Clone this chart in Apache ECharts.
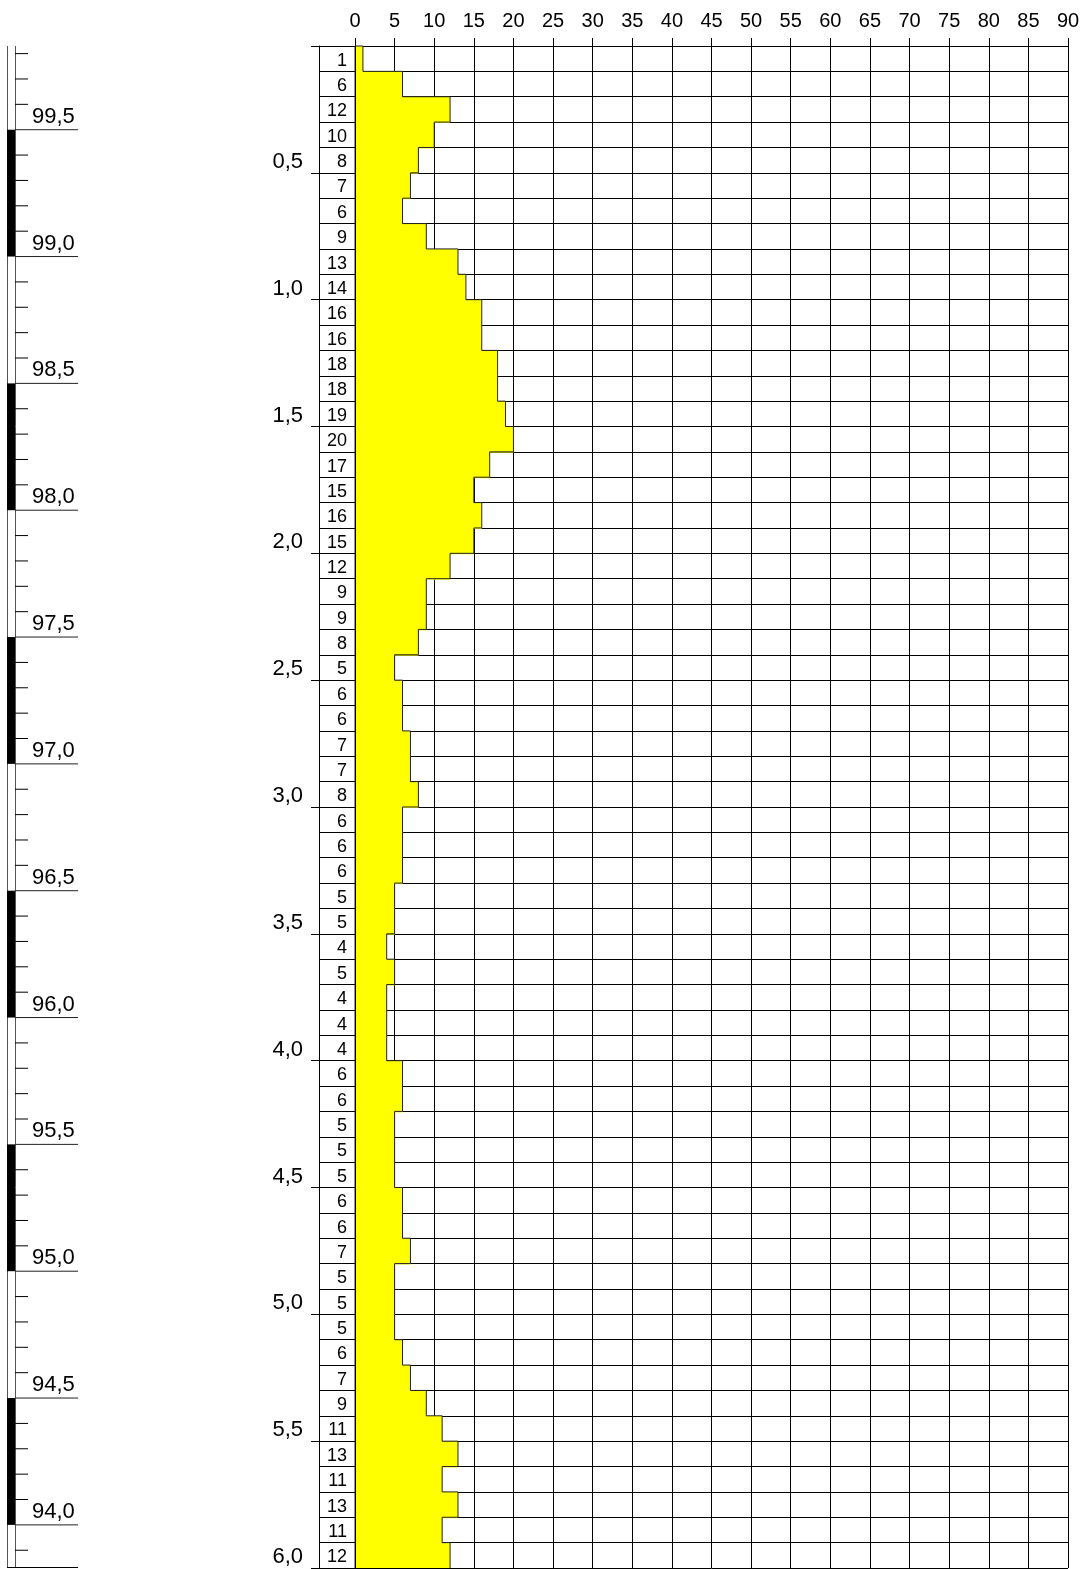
<!DOCTYPE html>
<html><head><meta charset="utf-8">
<script src="https://cdn.jsdelivr.net/npm/echarts@6/dist/echarts.min.js"></script>
<style>html,body{margin:0;padding:0;background:#fff}#c{width:1089px;height:1569px}</style>
</head><body><div id="c"></div>
<script>
// ---- data ----
const rowDepth = 0.1;      // m per row
const maxDepth = 6.0;      // m
const blows = [1,6,12,10,8,7,6,9,13,14,16,16,18,18,19,20,17,15,16,15,
               12,9,9,8,5,6,6,7,7,8,6,6,6,5,5,4,5,4,4,4,
               6,6,5,5,5,6,6,7,5,5,5,6,7,9,11,13,11,13,11,12];
const blowTicks = [0,5,10,15,20,25,30,35,40,45,50,55,60,65,70,75,80,85,90];
const depthLabels = [0.5,1.0,1.5,2.0,2.5,3.0,3.5,4.0,4.5,5.0,5.5,6.0];
const topElevation = 99.83;
const elevLabels = [99.5,99.0,98.5,98.0,97.5,97.0,96.5,96.0,95.5,95.0,94.5,94.0];

// ---- derived ----
const FONT = 'Liberation Sans, Arial, sans-serif';
const LINE = '#000';
const bottomElevation = +(topElevation - maxDepth).toFixed(2);
const fillData = blows.map((v, i) => [v, +(i * rowDepth).toFixed(3), +((i + 1) * rowDepth).toFixed(3)]);
const outline = [[0, maxDepth], [0, 0]];
blows.forEach((v, i) => { outline.push([v, +(i * rowDepth).toFixed(3)]); outline.push([v, +((i + 1) * rowDepth).toFixed(3)]); });
const countData = blows.map((v, i) => [1, +((i + 0.5) * rowDepth).toFixed(3), v]);
const blackSegs = [];
for (let k = 0; k + 1 < elevLabels.length; k += 2) blackSegs.push([elevLabels[k], elevLabels[k + 1]]);
const minorElev = [];
for (let k = Math.ceil(bottomElevation * 10 + 1e-6); k <= Math.floor(topElevation * 10); k++) {
  if (k % 5 !== 0) minorElev.push(k / 10);
}

const chart = echarts.init(document.getElementById('c'), null, {renderer: 'canvas'});
const lineStyle = {color: LINE, width: 1};

chart.setOption({
  animation: false,
  backgroundColor: '#fff',
  grid: [
    {left: 355, top: 46, width: 713, height: 1522},   // main
    {left: 319, top: 46, width: 36, height: 1522},    // counts
    {left: 7, top: 46, width: 8, height: 1522}        // elevation
  ],
  xAxis: [
    {gridIndex: 0, type: 'value', position: 'top', min: 0, max: 90, interval: 5,
     axisLine: {show: false},
     axisTick: {show: true, length: 8, lineStyle: lineStyle},
     axisLabel: {show: true, fontSize: 20, color: '#000', fontFamily: FONT, margin: 15,
                 customValues: blowTicks},
     splitLine: {show: true, lineStyle: lineStyle}},
    {gridIndex: 1, type: 'value', min: 0, max: 1, interval: 1, z: 10,
     axisLine: {show: false}, axisTick: {show: false}, axisLabel: {show: false},
     splitLine: {show: true, lineStyle: lineStyle}},
    {gridIndex: 2, type: 'value', min: 0, max: 1, interval: 1,
     axisLine: {show: false}, axisTick: {show: false}, axisLabel: {show: false},
     splitLine: {show: true, lineStyle: {color: '#555', width: 1}}}
  ],
  yAxis: [
    {gridIndex: 0, type: 'value', inverse: true, min: 0, max: maxDepth, interval: rowDepth,
     axisLine: {show: false}, axisTick: {show: false}, axisLabel: {show: false},
     splitLine: {show: true, lineStyle: lineStyle}},
    {gridIndex: 1, type: 'value', inverse: true, min: 0, max: maxDepth, interval: 0.5,
     axisLine: {show: true, lineStyle: lineStyle},
     axisTick: {show: true, length: 8, lineStyle: lineStyle},
     axisLabel: {show: true, fontSize: 22, color: '#000', fontFamily: FONT, margin: 16,
                 verticalAlign: 'bottom',
                 formatter: v => depthLabels.some(d => Math.abs(d - v) < 1e-6) ? v.toFixed(1).replace('.', ',') : ''},
     splitLine: {show: true, lineStyle: lineStyle},
     minorTick: {show: false, splitNumber: 5},
     minorSplitLine: {show: true, lineStyle: lineStyle}},
    {gridIndex: 2, type: 'value', min: bottomElevation, max: topElevation,
     axisLine: {show: false}, axisTick: {show: false}, axisLabel: {show: false},
     splitLine: {show: false}}
  ],
  series: [
    { // yellow fill
      type: 'custom', xAxisIndex: 0, yAxisIndex: 0, z: 2,
      data: fillData, encode: {x: 0, y: [1, 2]},
      renderItem: (params, api) => {
        const p0 = api.coord([0, api.value(1)]);
        const p1 = api.coord([api.value(0), api.value(2)]);
        const extra = params.dataIndex < blows.length - 1 ? 1 : 0;
        return {type: 'rect', shape: {x: p0[0], y: p0[1], width: p1[0] - p0[0], height: p1[1] - p0[1] + extra},
                style: {fill: '#ffff00'}};
      }
    },
    { // step outline
      type: 'line', xAxisIndex: 0, yAxisIndex: 0, z: 3, data: outline,
      symbol: 'none', clip: false, lineStyle: {color: '#222', width: 1}
    },
    { // blow counts text
      type: 'custom', xAxisIndex: 1, yAxisIndex: 1, z: 4,
      data: countData, encode: {x: 0, y: 1},
      renderItem: (params, api) => {
        const p = api.coord([api.value(0), api.value(1)]);
        return {type: 'text', x: p[0] - 8, y: p[1] + 2,
                style: {text: String(api.value(2)), fill: '#000', fontSize: 18, fontFamily: FONT,
                        align: 'right', verticalAlign: 'middle'}};
      }
    },
    { // elevation black segments
      type: 'custom', xAxisIndex: 2, yAxisIndex: 2, z: 2,
      data: blackSegs, encode: {y: [0, 1]},
      renderItem: (params, api) => {
        const a = api.coord([0, api.value(0)]);
        const b = api.coord([1, api.value(1)]);
        return {type: 'rect', shape: {x: a[0], y: a[1], width: b[0] - a[0], height: b[1] - a[1]},
                style: {fill: '#000'}};
      }
    },
    { // elevation minor ticks
      type: 'custom', xAxisIndex: 2, yAxisIndex: 2, z: 3,
      data: minorElev.map(e => [e]), encode: {y: 0},
      renderItem: (params, api) => {
        const p = api.coord([1, api.value(0)]);
        return {type: 'line', shape: {x1: p[0], y1: p[1], x2: p[0] + 13, y2: p[1]},
                style: {stroke: '#000', lineWidth: 1}};
      }
    },
    { // elevation major lines + labels
      type: 'custom', xAxisIndex: 2, yAxisIndex: 2, z: 3,
      data: elevLabels.map(e => [e]), encode: {y: 0},
      renderItem: (params, api) => {
        const e = api.value(0);
        const p = api.coord([1, e]);
        return {type: 'group', children: [
          {type: 'line', shape: {x1: p[0], y1: p[1], x2: 78, y2: p[1]}, style: {stroke: '#222', lineWidth: 1}},
          {type: 'text', x: 32, y: p[1] - 2,
           style: {text: e.toFixed(1).replace('.', ','), fill: '#000', fontSize: 22, fontFamily: FONT,
                   align: 'left', verticalAlign: 'bottom'}}
        ]};
      }
    },
    { // elevation bottom line
      type: 'custom', xAxisIndex: 2, yAxisIndex: 2, z: 3,
      data: [[bottomElevation]], encode: {y: 0},
      renderItem: (params, api) => {
        const p0 = api.coord([0, api.value(0)]);
        return {type: 'line', shape: {x1: p0[0], y1: p0[1] - 0.5, x2: 78, y2: p0[1] - 0.5},
                style: {stroke: '#000', lineWidth: 1}};
      }
    }
  ]
});
</script></body></html>
